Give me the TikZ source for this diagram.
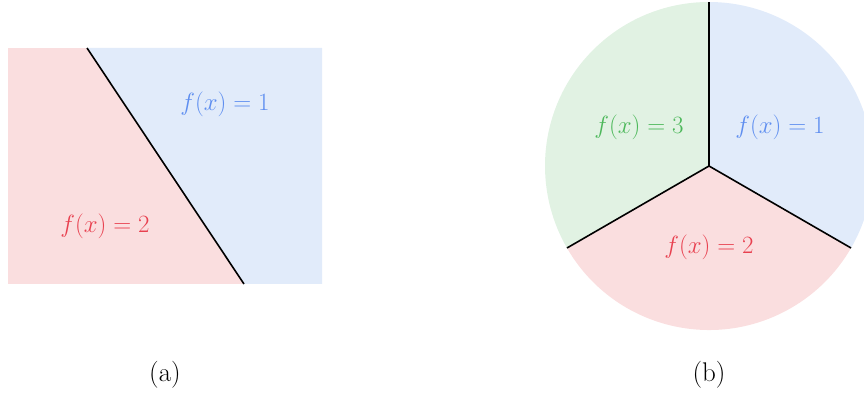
\documentclass[tikz,border=0pt]{standalone}
\definecolor{pinkfill}{HTML}{FADEDF}
\definecolor{bluefill}{HTML}{E1EBFA}
\definecolor{greenfill}{HTML}{E1F2E3}
\definecolor{bluetext}{HTML}{5E8EF0}
\definecolor{redtext}{HTML}{E8404F}
\definecolor{greentext}{HTML}{4CB85A}
\begin{document}
\begin{tikzpicture}[x=1pt,y=1pt,
  boundary/.style={draw=black,line width=1.6pt},
  mlabel/.style={font=\fontsize{23}{28}\selectfont,inner sep=0pt},
  caption/.style={font=\fontsize{27}{32}\selectfont,inner sep=0pt}]
\useasboundingbox (0,0) rectangle (864,396);
% panel (a)
\coordinate (A1) at (87,348);
\coordinate (A2) at (244,112);
\fill[pinkfill] (8,112) rectangle (322,348);
\fill[bluefill] (A1) -- (322,348) -- (322,112) -- (A2) -- cycle;
\draw[boundary] (A1) -- (A2);
\node[mlabel,text=bluetext] (la1) at (225,292) {$f(x)=1$};
\node[mlabel,text=redtext] (la2) at (105,170) {$f(x)=2$};
\node[caption] (capa) at (165,21) {(a)};
% panel (b)
\begin{scope}
\clip (0,0) rectangle (864,396);
\coordinate (C) at (709,230);
\fill[greenfill] (C) -- ++(90:164) arc[start angle=90,end angle=210,radius=164] -- cycle;
\fill[bluefill] (C) -- ++(-30:164) arc[start angle=-30,end angle=90,radius=164] -- cycle;
\fill[pinkfill] (C) -- ++(210:164) arc[start angle=210,end angle=330,radius=164] -- cycle;
\coordinate (Tp) at ([shift={(90:164)}]C);
\coordinate (Lp) at ([shift={(210:164)}]C);
\coordinate (Rp) at ([shift={(-30:164)}]C);
\draw[boundary] (C) -- (Tp);
\draw[boundary] (C) -- (Lp);
\draw[boundary] (C) -- (Rp);
\end{scope}
\node[mlabel,text=greentext] (lb3) at (639,269) {$f(x)=3$};
\node[mlabel,text=bluetext] (lb1) at (780,269) {$f(x)=1$};
\node[mlabel,text=redtext] (lb2) at (709,149) {$f(x)=2$};
\node[caption] (capb) at (709,21) {(b)};
\end{tikzpicture}
\end{document}
